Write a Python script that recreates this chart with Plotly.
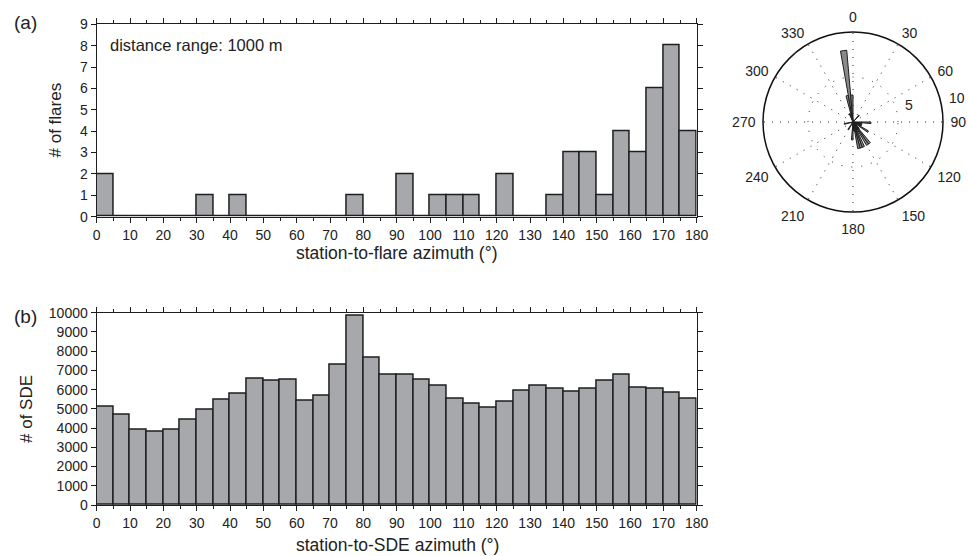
import plotly.graph_objects as go

W, H = 969, 556

# ---- data ----
bin_left = list(range(0, 180, 5))
flare_counts = [2, 0, 0, 0, 0, 0, 1, 0, 1, 0, 0, 0, 0, 0, 0, 1, 0, 0,
                2, 0, 1, 1, 1, 0, 2, 0, 0, 1, 3, 3, 1, 4, 3, 6, 8, 4]
sde_counts = [5110, 4700, 3920, 3800, 3920, 4420, 4960, 5460, 5810, 6590, 6480, 6520,
              5410, 5680, 7300, 9830, 7640, 6790, 6780, 6530, 6200, 5550, 5270, 5080,
              5370, 5960, 6200, 6050, 5890, 6050, 6480, 6760, 6080, 6030, 5840, 5550]
rose_left = [40, 90, 100, 105, 110, 120, 135, 140, 145, 150, 155, 160, 165, 175,
             180, 210, 255, 335, 345, 350, 355]
rose_counts = [1, 2, 1, 1, 1, 2, 1, 3, 3, 1, 3, 3, 3, 1,
               2, 1, 1, 1, 3, 8, 3]
x_ticks = list(range(0, 181, 10))
polar_ticks = list(range(0, 360, 30))
radial_ticks = [5, 10]

BIN = 5
centers = [b + BIN / 2 for b in bin_left]
rose_centers = [b + BIN / 2 for b in rose_left]

FONT = "Liberation Sans, Arial, Helvetica, sans-serif"
TXT = "#222222"
BARFILL = "#a7a8ac"
EDGE = "#1e1e1e"

def px_x(x):
    return x / W

def px_y(y):
    return 1 - y / H

fig = go.Figure()
fig.add_trace(go.Bar(x=centers, y=flare_counts, width=BIN, marker=dict(color=BARFILL, line=dict(color=EDGE, width=1.5)),
                     xaxis="x", yaxis="y", showlegend=False))
fig.add_trace(go.Bar(x=centers, y=sde_counts, width=BIN, marker=dict(color=BARFILL, line=dict(color=EDGE, width=1.5)),
                     xaxis="x2", yaxis="y2", showlegend=False))
fig.add_trace(go.Barpolar(r=rose_counts, theta=rose_centers, width=BIN,
                          marker=dict(color="#8a8a8a", line=dict(color=EDGE, width=1)),
                          subplot="polar", showlegend=False))

xdom = [px_x(96.7), px_x(696.7)]
common_x = dict(range=[0, 180], tickvals=x_ticks, ticks="outside", ticklen=5, tickwidth=1.2, tickcolor=EDGE,
                showline=True, linecolor=EDGE, linewidth=1.3, mirror="ticks", showgrid=False, zeroline=False,
                tickfont=dict(size=14, color=TXT, family=FONT), automargin=False,
                minor=dict(dtick=5, tick0=0, ticks="outside", ticklen=3, tickwidth=1.2, tickcolor=EDGE, showgrid=False))
common_y = dict(ticks="outside", ticklen=5, tickwidth=1.2, tickcolor=EDGE, showline=True, linecolor=EDGE,
                linewidth=1.3, mirror="ticks", showgrid=False, zeroline=False, tickformat="d",
                tickfont=dict(size=14, color=TXT, family=FONT), automargin=False)

fig.update_layout(
    width=W, height=H, margin=dict(l=0, r=0, t=0, b=0),
    paper_bgcolor="white", plot_bgcolor="white", bargap=0,
    font=dict(family=FONT, color=TXT),
    xaxis=dict(domain=xdom, anchor="y", **common_x),
    yaxis=dict(domain=[px_y(216.7), px_y(24.3)], anchor="x", range=[0, 9], dtick=1, **common_y),
    xaxis2=dict(domain=xdom, anchor="y2", **common_x),
    yaxis2=dict(domain=[px_y(505), px_y(312.7)], anchor="x2", range=[0, 10000], dtick=1000, **common_y),
    polar=dict(
        domain=dict(x=[px_x(763), px_x(943)], y=[px_y(212), px_y(32)]),
        bgcolor="white",
        angularaxis=dict(rotation=90, direction="clockwise", tickvals=polar_ticks,
                         ticks="outside", ticklen=4, tickcolor="rgba(255,255,255,0)",
                         showline=True, linecolor="#111111", linewidth=1.5,
                         showgrid=True, gridcolor="#222222", gridwidth=1.2, griddash="1px,7px",
                         tickfont=dict(size=14, color=TXT, family=FONT)),
        radialaxis=dict(range=[0, 10], tickvals=radial_ticks, showline=False, ticks="",
                        showticklabels=False,
                        showgrid=True, gridcolor="#222222", gridwidth=1.2, griddash="1px,9px",
                        angle=14),
    ),
    annotations=[
        dict(text="(a)", x=px_x(12), y=px_y(23), xref="paper", yref="paper", xanchor="left", yanchor="middle",
             showarrow=False, font=dict(size=19, color=TXT)),
        dict(text="(b)", x=px_x(12), y=px_y(316), xref="paper", yref="paper", xanchor="left", yanchor="middle",
             showarrow=False, font=dict(size=19, color=TXT)),
        dict(text="distance range: 1000 m", x=px_x(108), y=px_y(44.5), xref="paper", yref="paper",
             xanchor="left", yanchor="middle", showarrow=False, font=dict(size=16.5, color=TXT)),
        dict(text="station-to-flare azimuth (°)", x=px_x(397), y=px_y(253), xref="paper", yref="paper",
             xanchor="center", yanchor="middle", showarrow=False, font=dict(size=17.5, color=TXT)),
        dict(text="station-to-SDE azimuth (°)", x=px_x(397), y=px_y(545), xref="paper", yref="paper",
             xanchor="center", yanchor="middle", showarrow=False, font=dict(size=17.5, color=TXT)),
        dict(text="# of flares", x=px_x(55), y=px_y(120.5), xref="paper", yref="paper", textangle=-90,
             xanchor="center", yanchor="middle", showarrow=False, font=dict(size=17, color=TXT)),
        dict(text="# of SDE", x=px_x(26), y=px_y(409), xref="paper", yref="paper", textangle=-90,
             xanchor="center", yanchor="middle", showarrow=False, font=dict(size=17, color=TXT)),
        dict(text=str(radial_ticks[0]), x=px_x(909), y=px_y(105), xref="paper", yref="paper",
             xanchor="center", yanchor="middle", showarrow=False, font=dict(size=14, color=TXT)),
        dict(text=str(radial_ticks[1]), x=px_x(957), y=px_y(98), xref="paper", yref="paper",
             xanchor="center", yanchor="middle", showarrow=False, font=dict(size=14, color=TXT)),
    ],
)

fig.write_html("out.html")
